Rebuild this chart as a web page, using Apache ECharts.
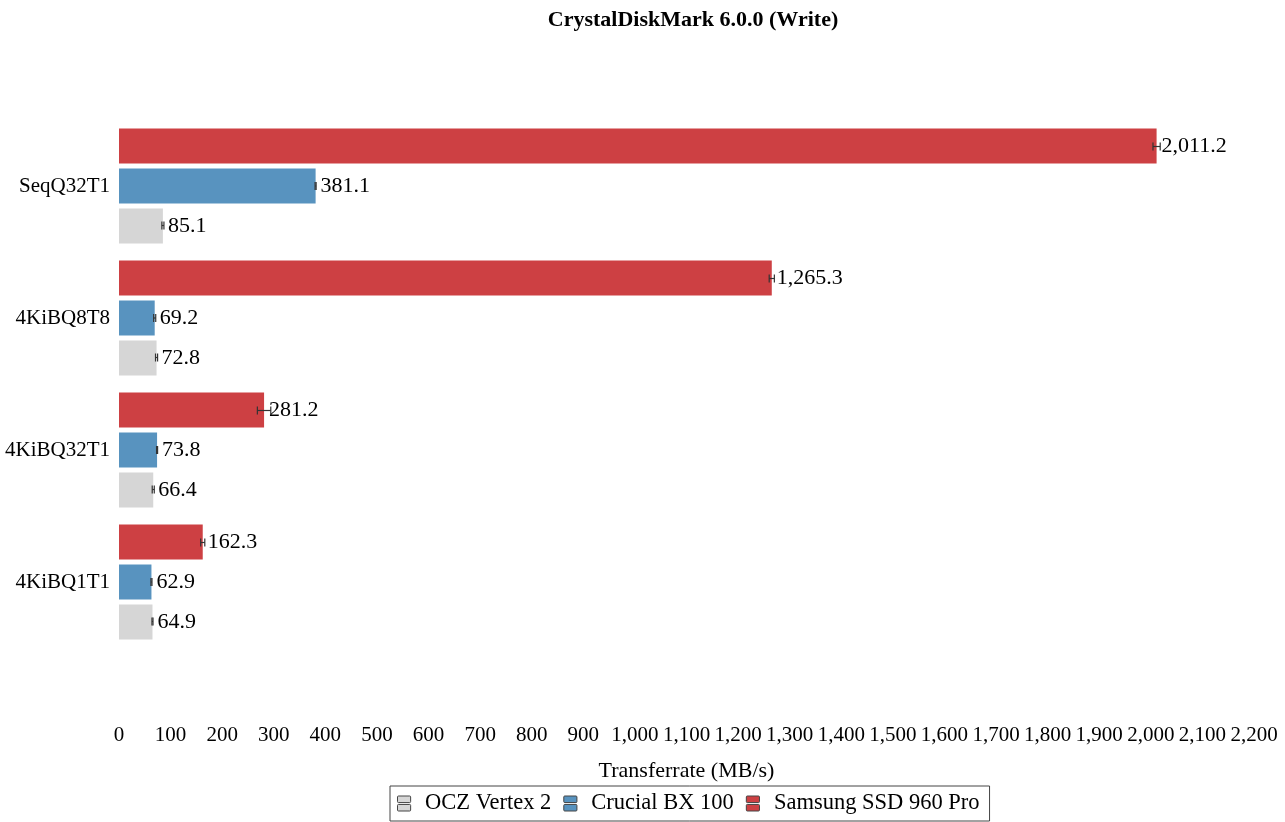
<!DOCTYPE html>
<html>
<head>
<meta charset="utf-8">
<script src="https://cdn.jsdelivr.net/npm/echarts@6/dist/echarts.min.js"></script>
<style>
html,body{margin:0;padding:0;background:#fff;}
#chart{width:1285px;height:822px;}
</style>
</head>
<body>
<div id="chart"></div>
<script>
// categories listed bottom-to-top
const categories = ['4KiBQ1T1', '4KiBQ32T1', '4KiBQ8T8', 'SeqQ32T1'];
const seriesNames = ['OCZ Vertex 2', 'Crucial BX 100', 'Samsung SSD 960 Pro'];
const oczValues = [64.9, 66.4, 72.8, 85.1];
const crucialValues = [62.9, 73.8, 69.2, 381.1];
const samsungValues = [162.3, 281.2, 1265.3, 2011.2];
const oczErrors = [1, 2, 2, 2];
const crucialErrors = [1, 1, 2, 1];
const samsungErrors = [4, 13, 5, 7];
const xTicks = { min: 0, max: 2200, interval: 100 };

const colors = ['#d6d6d6', '#5893bf', '#cd4043'];
const FONT = 'Liberation Serif';
const fmt = v => Number(v).toLocaleString('en-US', {minimumFractionDigits: 1, maximumFractionDigits: 1});
const fmtTick = v => Number(v).toLocaleString('en-US');

const valueSets = [oczValues, crucialValues, samsungValues];
const errorSets = [oczErrors, crucialErrors, samsungErrors];
const pixelOffsets = [39.5, 0, -39.5];

const chart = echarts.init(document.getElementById('chart'));

const barSeries = seriesNames.map((name, i) => ({
  name: name,
  type: 'bar',
  data: valueSets[i],
  barWidth: 35,
  barGap: '14%',
  itemStyle: { color: colors[i] },
  label: {
    show: true,
    position: 'right',
    distance: 5,
    color: '#000',
    fontFamily: FONT,
    fontSize: 22,
    formatter: p => fmt(p.value)
  },
  z: 2
})).reverse();

const errSeries = seriesNames.map((name, i) => ({
  name: name,
  type: 'custom',
  data: valueSets[i].map((v, j) => [j, v - errorSets[i][j], v + errorSets[i][j]]),
  encode: { x: [1, 2], y: 0 },
  silent: true,
  z: 5,
  renderItem: function (params, api) {
    const cat = api.value(0);
    const lo = api.coord([api.value(1), cat]);
    const hi = api.coord([api.value(2), cat]);
    const y = lo[1] + pixelOffsets[i];
    const h = 4;
    const st = { stroke: '#333', lineWidth: 1.2 };
    return {
      type: 'group',
      children: [
        { type: 'line', shape: { x1: lo[0], y1: y, x2: hi[0], y2: y }, style: st },
        { type: 'line', shape: { x1: lo[0], y1: y - h, x2: lo[0], y2: y + h }, style: st },
        { type: 'line', shape: { x1: hi[0], y1: y - h, x2: hi[0], y2: y + h }, style: st }
      ]
    };
  }
}));

chart.setOption({
  animation: false,
  title: {
    text: 'CrystalDiskMark 6.0.0 (Write)',
    left: 688,
    textAlign: 'center',
    top: 4,
    textStyle: { fontFamily: FONT, fontSize: 22, fontWeight: 'bold', color: '#000' }
  },
  legend: {
    data: seriesNames,
    bottom: 1,
    left: 390,
    orient: 'horizontal',
    borderColor: '#444',
    borderWidth: 1,
    borderRadius: 0,
    padding: [6, 10, 6, 7],
    itemGap: 12,
    itemWidth: 14,
    itemHeight: 15,
    icon: 'path://M1,0h12a1,1 0 0 1 1,1v5a1,1 0 0 1 -1,1h-12a1,1 0 0 1 -1,-1v-5a1,1 0 0 1 1,-1z M1,9h12a1,1 0 0 1 1,1v5a1,1 0 0 1 -1,1h-12a1,1 0 0 1 -1,-1v-5a1,1 0 0 1 1,-1z',
    itemStyle: { borderColor: '#444', borderWidth: 1 },
    textStyle: { fontFamily: FONT, fontSize: 22.5, color: '#000', padding: [0, 0, 0, 9] }
  },
  grid: { left: 119, right: 31, top: 120, bottom: 174, containLabel: false },
  xAxis: {
    type: 'value',
    min: xTicks.min,
    max: xTicks.max,
    interval: xTicks.interval,
    name: 'Transferrate (MB/s)',
    nameLocation: 'middle',
    nameGap: 112,
    nameTextStyle: { fontFamily: FONT, fontSize: 22, color: '#000' },
    axisLine: { show: false },
    axisTick: { show: false },
    splitLine: { show: false },
    axisLabel: { margin: 77, fontFamily: FONT, fontSize: 21, color: '#000', formatter: fmtTick }
  },
  yAxis: {
    type: 'category',
    data: categories,
    axisLine: { show: false },
    axisTick: { show: false },
    axisLabel: { margin: 9, fontFamily: FONT, fontSize: 21, color: '#000' }
  },
  series: barSeries.concat(errSeries)
});
</script>
</body>
</html>
